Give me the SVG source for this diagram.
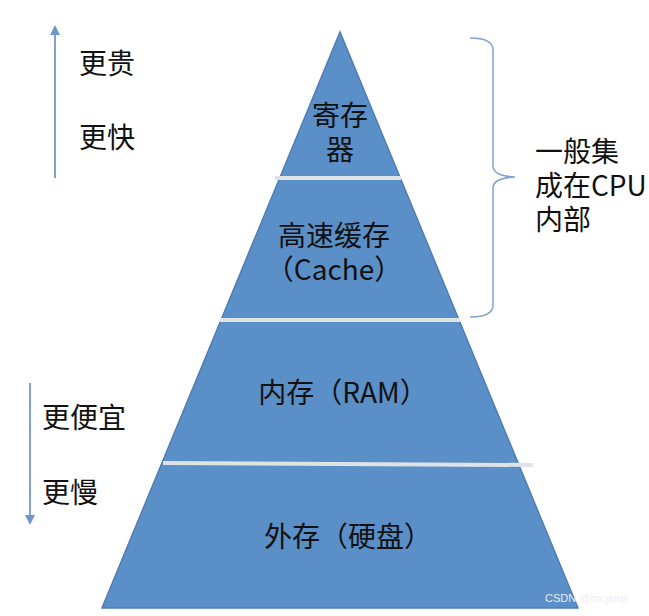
<svg xmlns="http://www.w3.org/2000/svg" width="649" height="616" viewBox="0 0 649 616">
<style>
.t{font-family:"Noto Sans CJK SC","Liberation Sans",sans-serif;font-size:28px;fill:#111;}
.c{text-anchor:middle;}
.sep{stroke:#dfe3e8;stroke-width:4;}
.ax{stroke:#7fa3cf;stroke-width:2;fill:none;}
</style>
<defs>
<marker id="ah" markerWidth="10" markerHeight="10" refX="5" refY="5" orient="auto" markerUnits="userSpaceOnUse"><path d="M0,0 L10,5 L0,10 z" fill="#6f97c8"/></marker>
</defs>
<rect width="649" height="616" fill="#fff"/>
<g id="pyramid">
<polygon points="340,32 578,608 102,608" fill="#5b8fc7" stroke="#4d7db3" stroke-width="1.5"/>
<line class="sep" x1="275" y1="178" x2="401" y2="178"/>
<line class="sep" x1="220" y1="320" x2="460" y2="320"/>
<line class="sep" x1="163" y1="463" x2="533" y2="465"/>
</g>
<g id="register"><text class="t c" x="340" y="126">寄存</text><text class="t c" x="340" y="160">器</text></g>
<g id="cache"><text class="t c" x="334" y="246">高速缓存</text><text class="t c" x="334" y="280">（Cache）</text></g>
<g id="ram"><text class="t c" x="343" y="403">内存（RAM）</text></g>
<g id="disk"><text class="t c" x="348" y="547">外存（硬盘）</text></g>
<g id="connectors">
<line class="ax" x1="55" y1="178" x2="55" y2="30" marker-end="url(#ah)"/>
<line class="ax" x1="30" y1="383" x2="30" y2="520" marker-end="url(#ah)"/>
<path d="M470,38 Q493,38 493,50 L493,166 Q493,176 515,177 Q493,178 493,188 L493,305 Q493,317 470,317" stroke="#7fa3cf" stroke-width="1.5" fill="none"/>
</g>
<g id="labels">
<text class="t" x="79" y="74">更贵</text>
<text class="t" x="79" y="148">更快</text>
<text class="t" x="42" y="428">更便宜</text>
<text class="t" x="42" y="503">更慢</text>
<text class="t" x="535" y="162">一般集</text>
<text class="t" x="535" y="196">成在CPU</text>
<text class="t" x="535" y="230">内部</text>
</g>
<text x="545" y="602" font-family="Liberation Sans,sans-serif" font-size="11" fill="#e8eef6">CSDN @mcyuuji</text>
</svg>
